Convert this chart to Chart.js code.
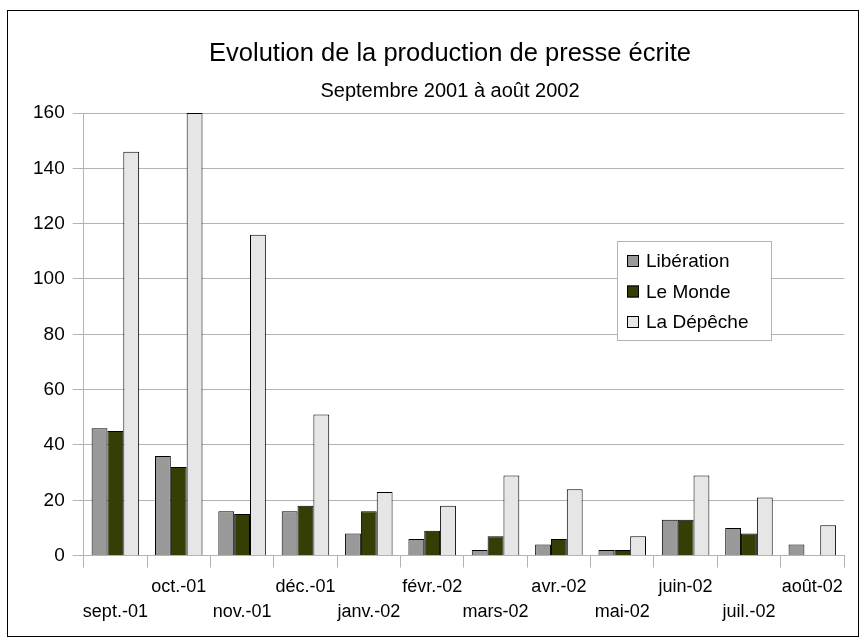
<!DOCTYPE html>
<html>
<head>
<meta charset="utf-8">
<script src="https://cdn.jsdelivr.net/npm/chart.js@4.4.1/dist/chart.umd.min.js"></script>
<style>
  body { margin: 0; background: #fff; }
  #wrap { width: 865px; height: 643px; }
</style>
</head>
<body>
<div id="wrap"><canvas id="chart" width="865" height="643"></canvas></div>
<script>
// Data
const months = ["sept.-01", "oct.-01", "nov.-01", "déc.-01", "janv.-02", "févr.-02",
  "mars-02", "avr.-02", "mai-02", "juin-02", "juil.-02", "août-02"];
const liberation = [46, 36, 16, 16, 8, 6, 2, 4, 2, 13, 10, 4];
const leMonde = [45, 32, 15, 18, 16, 9, 7, 6, 2, 13, 8, 0];
const laDepeche = [146, 160, 116, 51, 23, 18, 29, 24, 7, 29, 21, 11];
const yTicks = [0, 20, 40, 60, 80, 100, 120, 140, 160];

const FONT = "'Liberation Sans', Arial, sans-serif";

// frame, titles and the legend box drawn on the canvas
const decor = {
  id: "decor",
  beforeDraw(chart) {
    const ctx = chart.ctx;
    ctx.save();
    ctx.fillStyle = "#fff";
    ctx.fillRect(0, 0, chart.width, chart.height);
    ctx.strokeStyle = "#000";
    ctx.lineWidth = 1;
    ctx.strokeRect(7.5, 10.5, 851, 626);
    ctx.restore();
  },
  afterDraw(chart) {
    const ctx = chart.ctx;
    ctx.save();
    ctx.fillStyle = "#000";
    ctx.textAlign = "center";
    ctx.textBaseline = "middle";
    ctx.font = "25.5px " + FONT;
    ctx.fillText("Evolution de la production de presse écrite", 450, 54);
    ctx.font = "20px " + FONT;
    ctx.fillText("Septembre 2001 à août 2002", 450, 91);

    // legend
    const x0 = 617, y0 = 241, w = 154, h = 99;
    ctx.fillStyle = "#fff";
    ctx.fillRect(x0, y0, w, h);
    ctx.strokeStyle = "#b3b3b3";
    ctx.strokeRect(x0 + 0.5, y0 + 0.5, w, h);
    ctx.textAlign = "left";
    ctx.font = "19px " + FONT;
    chart.data.datasets.forEach((ds, i) => {
      const cy = 261 + i * 30.5;
      ctx.fillStyle = ds.backgroundColor;
      ctx.fillRect(627, cy - 6, 12, 12);
      ctx.strokeStyle = "#000";
      ctx.strokeRect(627.5, cy - 5.5, 11, 11);
      ctx.fillStyle = "#000";
      ctx.fillText(ds.label, 646, cy + 1);
    });
    ctx.restore();
  }
};

new Chart(document.getElementById("chart"), {
  type: "bar",
  data: {
    labels: months,
    datasets: [
      { label: "Libération", data: liberation, backgroundColor: "#999999" },
      { label: "Le Monde", data: leMonde, backgroundColor: "#333f04" },
      { label: "La Dépêche", data: laDepeche, backgroundColor: "#e6e6e6" }
    ].map(d => Object.assign(d, {
      borderColor: "#000", borderWidth: 1, borderSkipped: "bottom",
      categoryPercentage: 0.75, barPercentage: 1.0
    }))
  },
  options: {
    responsive: false,
    animation: false,
    layout: { padding: { top: 113, left: 25, right: 21, bottom: 11 } },
    plugins: {
      legend: { display: false },
      title: { display: false },
      tooltip: { enabled: false }
    },
    scales: {
      x: {
        grid: { offset: true, drawOnChartArea: false, color: "#b3b3b3", tickLength: 12 },
        border: { color: "#b3b3b3" },
        ticks: {
          color: "#000", maxRotation: 0, autoSkip: false, padding: 7,
          font: { family: FONT, size: 18, lineHeight: 1.4 },
          callback: (v, i) => i % 2 === 0 ? ["", months[i]] : [months[i], ""]
        }
      },
      y: {
        min: 0, max: 160,
        afterBuildTicks: axis => { axis.ticks = yTicks.map(v => ({ value: v })); },
        grid: { color: "#b3b3b3", tickLength: 11 },
        border: { color: "#b3b3b3" },
        ticks: { color: "#000", padding: 8, font: { family: FONT, size: 19 } }
      }
    }
  },
  plugins: [decor]
});
</script>
</body>
</html>
